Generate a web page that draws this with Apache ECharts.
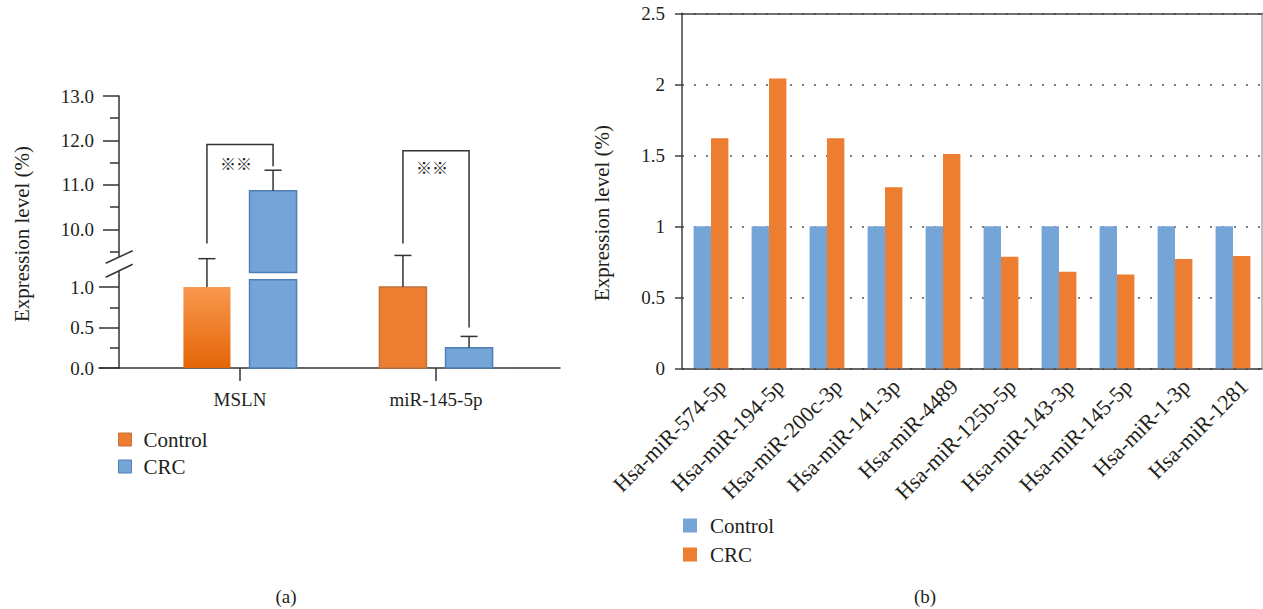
<!DOCTYPE html>
<html><head><meta charset="utf-8">
<script src="https://cdn.jsdelivr.net/npm/echarts@6/dist/echarts.min.js"></script>
<style>html,body{margin:0;padding:0;background:#fff}#c{width:1263px;height:609px}</style>
</head><body><div id="c"></div>
<script>
// ---------- Panel (a) data ----------
const categoriesA = ['MSLN', 'miR-145-5p'];
const controlMeanA = [1.0, 1.0];
const controlErrA = [0.35, 0.39];
const crcMeanA = [10.87, 0.25];
const crcErrA = [0.46, 0.14];
const yTicksHighA = [10, 11, 12, 13];
const yMinorHighA = [9.5, 10.5, 11.5, 12.5];
const yTicksLowA = [0, 0.5, 1.0];
const yMinorLowA = [0.25, 0.75];
const yRangeHighA = [8.95, 13];
const yRangeLowA = [0, 1.136];
const barBreakA = [1.09, 9.03];
const bracketTopA = [11.91, 11.77];
const bracketLeftFootA = [9.68, 9.68];
const bracketRightFootA = [11.42, 0.50];
const sigTextA = ['※※', '※※'];
const sigLevelA = [11.49, 11.40];

// ---------- Panel (b) data ----------
const categoriesB = ['Hsa-miR-574-5p', 'Hsa-miR-194-5p', 'Hsa-miR-200c-3p', 'Hsa-miR-141-3p', 'Hsa-miR-4489',
  'Hsa-miR-125b-5p', 'Hsa-miR-143-3p', 'Hsa-miR-145-5p', 'Hsa-miR-1-3p', 'Hsa-miR-1281'];
const controlB = [1, 1, 1, 1, 1, 1, 1, 1, 1, 1];
const crcB = [1.62, 2.04, 1.62, 1.275, 1.51, 0.785, 0.68, 0.66, 0.77, 0.79];
const yTickIntervalB = 0.5;

// ---------- styles ----------
const FONT = '"Liberation Serif", "DejaVu Serif", serif';
const TXT = '#231F20';
const AX = '#333333';
const ORANGE = '#ED7D31';
const BLUE = '#75A5D6';
const OFF = 0.1687, BW = 0.24, CAPW = 0.087;

const chart = echarts.init(document.getElementById('c'), null, {renderer: 'svg'});

function controlStyle(idx) {
  if (idx === 0) {
    return {fill: new echarts.graphic.LinearGradient(0, 0, 0, 1, [
      {offset: 0, color: '#F9984F'}, {offset: 1, color: '#E46506'}]), stroke: null};
  }
  return {fill: ORANGE, stroke: '#C0743F', lineWidth: 1.5};
}
function crcStyle() { return {fill: BLUE, stroke: '#4E7FB6', lineWidth: 1.5}; }

function makeBarRender(side, segment, styleFn) {
  return function (params, api) {
    const i = api.value(0), mean = api.value(1), err = api.value(2);
    const bw = api.size([1, 0])[0];
    const w = BW * bw, cap = CAPW * bw;
    const cx = api.coord([i, mean])[0] + side * OFF * bw;
    let y0, y1, errHere;
    if (segment === 'low') {
      y0 = 0; y1 = Math.min(mean, barBreakA[0]); errHere = mean <= barBreakA[0];
    } else {
      if (mean <= barBreakA[0]) return {type: 'group', children: []};
      y0 = barBreakA[1]; y1 = mean; errHere = true;
    }
    const p0 = api.coord([i, y0]), p1 = api.coord([i, y1]);
    const children = [{type: 'rect', shape: {x: cx - w / 2, y: p1[1], width: w, height: p0[1] - p1[1]},
      style: styleFn(params.dataIndex)}];
    if (errHere) {
      const pe = api.coord([i, mean + err]);
      children.push({type: 'line', shape: {x1: cx, y1: p1[1], x2: cx, y2: pe[1]}, style: {stroke: AX, lineWidth: 1.5}});
      children.push({type: 'line', shape: {x1: cx - cap / 2, y1: pe[1], x2: cx + cap / 2, y2: pe[1]}, style: {stroke: AX, lineWidth: 1.5}});
    }
    return {type: 'group', children};
  };
}

function bracketHigh(params, api) {
  const i = api.value(0), top = api.value(1), lf = api.value(2), rf = api.value(3), sig = api.value(4);
  const bw = api.size([1, 0])[0];
  const c = api.coord([i, top]);
  const lx = c[0] - OFF * bw, rx = c[0] + OFF * bw;
  const yl = api.coord([i, lf])[1];
  const yr = api.coord([i, rf <= yRangeLowA[1] ? yRangeHighA[0] : rf])[1];
  const ys = api.coord([i, sig])[1];
  return {type: 'group', children: [
    {type: 'polyline', shape: {points: [[lx, yl], [lx, c[1]], [rx, c[1]], [rx, yr]]},
      style: {stroke: AX, lineWidth: 1.5, fill: null}},
    {type: 'text', x: c[0] - 4, y: ys, style: {text: sigTextA[params.dataIndex], fill: '#222',
      font: 'bold 16px "Noto Sans CJK SC"', align: 'center', verticalAlign: 'middle'}}
  ]};
}
function bracketLow(params, api) {
  const i = api.value(0), rf = api.value(1);
  if (rf > yRangeLowA[1]) return {type: 'group', children: []};
  const bw = api.size([1, 0])[0];
  const rx = api.coord([i, rf])[0] + OFF * bw;
  const y1 = api.coord([i, yRangeLowA[1]])[1], y2 = api.coord([i, rf])[1];
  return {type: 'line', shape: {x1: rx, y1: y1, x2: rx, y2: y2}, style: {stroke: AX, lineWidth: 1.5}};
}

const tickStyle = {color: AX, width: 1.5};
const lblA = {fontSize: 19, fontFamily: FONT, color: TXT};

const option = {
  animation: false,
  backgroundColor: '#fff',
  textStyle: {fontFamily: FONT},
  grid: [
    {left: 142, width: 392, top: 96, height: 180, outerBoundsMode: 'none', containLabel: false},
    {left: 142, width: 392, top: 276, height: 92, outerBoundsMode: 'none', containLabel: false},
    {left: 99, width: 461, top: 276, height: 92, outerBoundsMode: 'none', containLabel: false},
    {left: 682, width: 580, top: 13.3, height: 355, outerBoundsMode: 'none', containLabel: false}
  ],
  xAxis: [
    {gridIndex: 0, type: 'category', data: categoriesA, show: false},
    {gridIndex: 1, type: 'category', data: categoriesA, position: 'bottom',
      axisLine: {show: false, onZero: false},
      axisTick: {show: true, alignWithLabel: true, length: 13, lineStyle: tickStyle},
      axisLabel: Object.assign({margin: 22}, lblA), splitLine: {show: false}},
    {gridIndex: 2, type: 'value', min: 0, max: 1, position: 'bottom',
      axisLine: {show: true, onZero: false, lineStyle: tickStyle},
      axisTick: {show: false}, axisLabel: {show: false}, splitLine: {show: false}},
    {gridIndex: 3, type: 'category', data: categoriesB, position: 'bottom',
      axisLine: {show: true, onZero: false, lineStyle: {color: '#333', width: 1.5}},
      axisTick: {show: false},
      axisLabel: {interval: 0, rotate: 45, align: 'right', verticalAlign: 'top', margin: 3,
        padding: [5, 0, 0, 0], fontSize: 22, fontFamily: FONT, color: TXT}},
    {gridIndex: 3, type: 'category', data: categoriesB, position: 'top',
      axisLine: {show: true, onZero: false, lineStyle: {color: '#404040', width: 1.5}},
      axisTick: {show: false}, axisLabel: {show: false}, splitLine: {show: false}}
  ],
  yAxis: [
    {gridIndex: 0, type: 'value', position: 'left', offset: 23, min: yRangeHighA[0], max: yRangeHighA[1],
      axisLine: {show: true, onZero: false, lineStyle: tickStyle},
      axisTick: {show: true, length: 16, customValues: yTicksHighA, lineStyle: tickStyle},
      axisLabel: Object.assign({customValues: yTicksHighA, formatter: v => Number(v).toFixed(1), margin: 25}, lblA),
      splitLine: {show: false}},
    {gridIndex: 0, type: 'value', position: 'left', offset: 23, min: yRangeHighA[0], max: yRangeHighA[1],
      axisLine: {show: false, onZero: false},
      axisTick: {show: true, length: 9, customValues: yMinorHighA, lineStyle: tickStyle},
      axisLabel: {show: false}, splitLine: {show: false}},
    {gridIndex: 1, type: 'value', position: 'left', offset: 23, min: yRangeLowA[0], max: yRangeLowA[1],
      axisLine: {show: true, onZero: false, lineStyle: tickStyle},
      axisTick: {show: true, length: 20, customValues: yTicksLowA, lineStyle: tickStyle},
      axisLabel: Object.assign({customValues: yTicksLowA, formatter: v => Number(v).toFixed(1), margin: 25}, lblA),
      splitLine: {show: false}},
    {gridIndex: 1, type: 'value', position: 'left', offset: 23, min: yRangeLowA[0], max: yRangeLowA[1],
      axisLine: {show: false, onZero: false},
      axisTick: {show: true, length: 9, customValues: yMinorLowA, lineStyle: tickStyle},
      axisLabel: {show: false}, splitLine: {show: false}},
    {gridIndex: 2, type: 'value', show: false, min: 0, max: 1},
    {gridIndex: 3, type: 'value', position: 'left', min: 0, max: 2.5, interval: yTickIntervalB,
      axisLine: {show: true, onZero: false, lineStyle: {color: '#404040', width: 1.5}},
      axisTick: {show: true, length: 7, lineStyle: {color: '#404040', width: 1.5}},
      axisLabel: {margin: 17, fontSize: 19, fontFamily: FONT, color: TXT},
      splitLine: {show: true, lineStyle: {type: [2, 10], color: '#555', width: 1.5}}},
    {gridIndex: 3, type: 'value', position: 'right', min: 0, max: 2.5, interval: yTickIntervalB,
      axisLine: {show: true, onZero: false, lineStyle: {color: '#A8A8A8', width: 1.5}},
      axisTick: {show: false}, axisLabel: {show: false}, splitLine: {show: false}}
  ],
  legend: [
    {orient: 'vertical', left: 118, top: 429, padding: 0, itemWidth: 13, itemHeight: 13, itemGap: 6,
      textStyle: {fontSize: 21, fontFamily: FONT, color: TXT, padding: [0, 0, 0, 7]},
      data: [{name: 'Control', icon: 'rect', itemStyle: {color: ORANGE, borderColor: '#C0743F', borderWidth: 1}},
             {name: 'CRC', icon: 'rect', itemStyle: {color: BLUE, borderColor: '#4E7FB6', borderWidth: 1}}]},
    {orient: 'vertical', left: 683, top: 515, padding: 0, itemWidth: 14, itemHeight: 14, itemGap: 8,
      textStyle: {fontSize: 21, fontFamily: FONT, color: TXT, padding: [0, 0, 0, 8]},
      data: [{name: 'Control', icon: 'rect', itemStyle: {color: BLUE, borderWidth: 0}},
             {name: 'CRC', icon: 'rect', itemStyle: {color: ORANGE, borderWidth: 0}}]}
  ],
  graphic: [
    {type: 'text', x: 21.7, y: 234, rotation: Math.PI / 2, z: 100,
      style: {text: 'Expression level (%)', fill: TXT, font: '21px ' + FONT, align: 'center', verticalAlign: 'middle'}},
    {type: 'text', x: 602, y: 213, rotation: Math.PI / 2, z: 100,
      style: {text: 'Expression level (%)', fill: TXT, font: '21px ' + FONT, align: 'center', verticalAlign: 'middle'}},
    {type: 'text', x: 286, y: 596, z: 100,
      style: {text: '(a)', fill: TXT, font: '19px ' + FONT, align: 'center', verticalAlign: 'middle'}},
    {type: 'text', x: 925, y: 596, z: 100,
      style: {text: '(b)', fill: TXT, font: '19px ' + FONT, align: 'center', verticalAlign: 'middle'}},
    {type: 'polygon', z: 100, shape: {points: [[105.7, 263.3], [132.7, 250.7], [132.7, 264.3], [105.7, 277.3]]},
      style: {fill: '#fff', stroke: null}},
    {type: 'line', z: 101, shape: {x1: 105.7, y1: 263.3, x2: 132.7, y2: 250.7}, style: {stroke: AX, lineWidth: 1.5}},
    {type: 'line', z: 101, shape: {x1: 105.7, y1: 277.3, x2: 132.7, y2: 264.3}, style: {stroke: AX, lineWidth: 1.5}}
  ],
  series: [
    {name: 'Control', type: 'custom', xAxisIndex: 1, yAxisIndex: 2, itemStyle: {color: ORANGE},
      data: categoriesA.map((c, i) => [i, controlMeanA[i], controlErrA[i]]),
      renderItem: makeBarRender(-1, 'low', controlStyle)},
    {name: 'CRC', type: 'custom', xAxisIndex: 1, yAxisIndex: 2, itemStyle: {color: BLUE},
      data: categoriesA.map((c, i) => [i, crcMeanA[i], crcErrA[i]]),
      renderItem: makeBarRender(1, 'low', crcStyle)},
    {name: 'Control-upper', type: 'custom', xAxisIndex: 0, yAxisIndex: 0,
      data: categoriesA.map((c, i) => [i, controlMeanA[i], controlErrA[i]]),
      renderItem: makeBarRender(-1, 'high', controlStyle)},
    {name: 'CRC-upper', type: 'custom', xAxisIndex: 0, yAxisIndex: 0,
      data: categoriesA.map((c, i) => [i, crcMeanA[i], crcErrA[i]]),
      renderItem: makeBarRender(1, 'high', crcStyle)},
    {name: 'bracket-upper', type: 'custom', xAxisIndex: 0, yAxisIndex: 0,
      data: categoriesA.map((c, i) => [i, bracketTopA[i], bracketLeftFootA[i], bracketRightFootA[i], sigLevelA[i]]),
      renderItem: bracketHigh},
    {name: 'bracket-lower', type: 'custom', xAxisIndex: 1, yAxisIndex: 2,
      data: categoriesA.map((c, i) => [i, bracketRightFootA[i]]),
      renderItem: bracketLow},
    {name: 'Control', type: 'bar', xAxisIndex: 3, yAxisIndex: 5, data: controlB,
      itemStyle: {color: BLUE}, barGap: '0%', barCategoryGap: '40%'},
    {name: 'CRC', type: 'bar', xAxisIndex: 3, yAxisIndex: 5, data: crcB,
      itemStyle: {color: ORANGE}, barGap: '0%', barCategoryGap: '40%'}
  ]
};
chart.setOption(option);
</script>
</body></html>
